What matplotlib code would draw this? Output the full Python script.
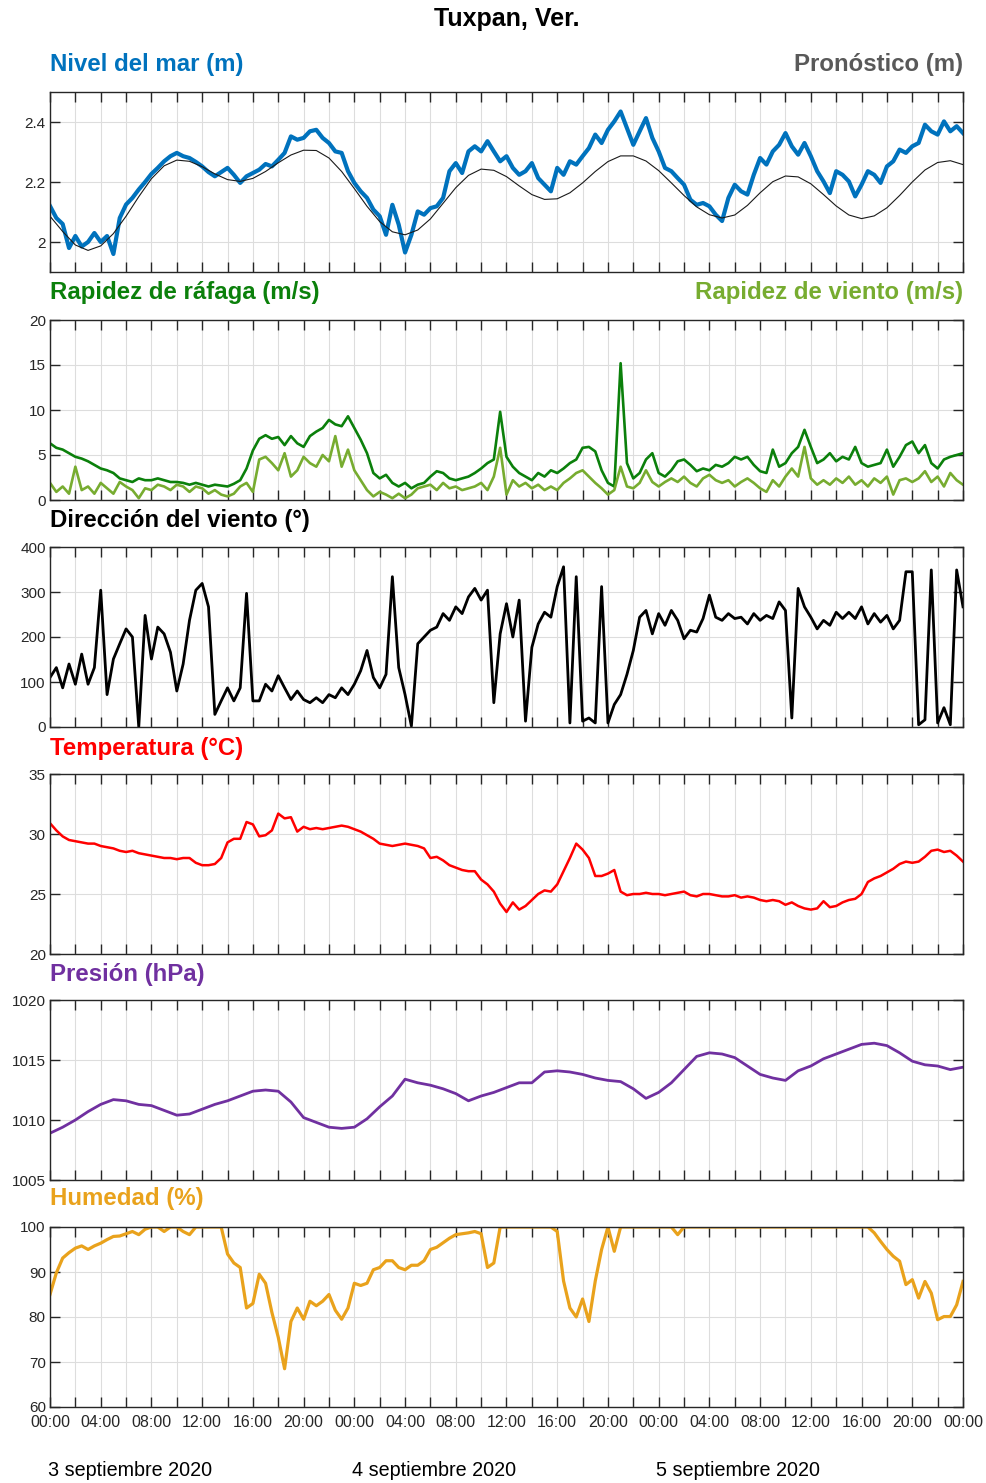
import numpy as np
import matplotlib
matplotlib.use('Agg')
import matplotlib.pyplot as plt

plt.rcParams['font.family'] = ['Liberation Sans', 'DejaVu Sans']

# time axis in hours from 3 Sep 2020 00:00
t30 = np.arange(0, 72.5, 0.5)
t60 = np.arange(0, 73, 1)

nivel = [2.12, 2.08, 2.06, 1.98, 2.02, 1.985, 2.00, 2.03, 2.00, 2.02,
         1.96, 2.08, 2.125, 2.147, 2.175, 2.20, 2.227, 2.247, 2.269, 2.286,
         2.297, 2.286, 2.28, 2.267, 2.252, 2.233, 2.219, 2.233, 2.247, 2.224,
         2.197, 2.219, 2.23, 2.241, 2.26, 2.252, 2.274, 2.297, 2.352, 2.341,
         2.347, 2.369, 2.374, 2.347, 2.33, 2.302, 2.297, 2.236, 2.197, 2.169,
         2.147, 2.108, 2.086, 2.024, 2.124, 2.058, 1.965, 2.024, 2.102, 2.091,
         2.113, 2.119, 2.147, 2.236, 2.263, 2.23, 2.302, 2.319, 2.302, 2.336,
         2.302, 2.269, 2.286, 2.247, 2.224, 2.236, 2.263, 2.213, 2.191, 2.169,
         2.247, 2.224, 2.269, 2.258, 2.286, 2.313, 2.358, 2.33, 2.374, 2.402,
         2.435, 2.38, 2.324, 2.369, 2.413, 2.347, 2.302, 2.247, 2.236, 2.213,
         2.191, 2.141, 2.124, 2.13, 2.119, 2.091, 2.07, 2.147, 2.191, 2.169,
         2.158, 2.224, 2.28, 2.258, 2.302, 2.324, 2.363, 2.319, 2.291, 2.33,
         2.286, 2.236, 2.202, 2.163, 2.236, 2.224, 2.202, 2.152, 2.191, 2.236,
         2.224, 2.197, 2.252, 2.269, 2.308, 2.297, 2.319, 2.33, 2.391, 2.369,
         2.358, 2.402, 2.369, 2.386, 2.363]

pronostico = [2.086, 2.035, 1.990, 1.972, 1.987, 2.028, 2.086, 2.151, 2.211, 2.254,
              2.273, 2.269, 2.251, 2.227, 2.208, 2.202, 2.212, 2.235, 2.264, 2.290,
              2.306, 2.305, 2.280, 2.235, 2.178, 2.119, 2.068, 2.034, 2.024, 2.040,
              2.077, 2.129, 2.181, 2.222, 2.243, 2.239, 2.218, 2.187, 2.158, 2.142,
              2.144, 2.164, 2.197, 2.235, 2.268, 2.287, 2.287, 2.270, 2.238, 2.197,
              2.155, 2.117, 2.091, 2.080, 2.090, 2.122, 2.164, 2.201, 2.220, 2.217,
              2.194, 2.158, 2.120, 2.090, 2.078, 2.087, 2.114, 2.155, 2.200, 2.240,
              2.265, 2.271, 2.258]

rafaga = [6.3, 5.8, 5.6, 5.2, 4.8, 4.6, 4.3, 3.9, 3.5, 3.3,
          3.0, 2.4, 2.2, 2.0, 2.4, 2.2, 2.2, 2.4, 2.2, 2.0,
          2.0, 1.9, 1.7, 1.9, 1.7, 1.5, 1.7, 1.6, 1.5, 1.8,
          2.2, 3.5, 5.5, 6.8, 7.2, 6.8, 7.0, 6.1, 7.1, 6.3,
          5.9, 7.1, 7.6, 8.0, 8.9, 8.4, 8.2, 9.3, 8.0, 6.7,
          5.2, 3.0, 2.4, 2.8, 1.9, 1.5, 1.9, 1.3, 1.7, 1.9,
          2.6, 3.2, 3.0, 2.4, 2.2, 2.4, 2.6, 3.0, 3.5, 4.1,
          4.5, 9.8, 4.8, 3.7, 3.0, 2.6, 2.2, 3.0, 2.6, 3.3,
          3.0, 3.5, 4.1, 4.5, 5.8, 5.9, 5.4, 3.3, 1.9, 1.5,
          15.2, 4.1, 2.4, 3.0, 4.5, 5.2, 3.0, 2.6, 3.3, 4.3,
          4.5, 3.9, 3.2, 3.5, 3.3, 3.9, 3.7, 4.1, 4.8, 4.5,
          4.8, 3.9, 3.2, 3.0, 5.6, 3.7, 4.1, 5.2, 5.9, 7.8,
          5.9, 4.1, 4.5, 5.2, 4.3, 4.8, 4.5, 5.9, 4.1, 3.7,
          3.9, 4.1, 5.6, 3.7, 4.8, 6.1, 6.5, 5.2, 6.1, 4.1,
          3.5, 4.5, 4.8, 5.0, 5.2]

viento = [1.9, 0.9, 1.5, 0.7, 3.7, 1.1, 1.5, 0.7, 1.9, 1.3,
          0.7, 2.0, 1.5, 1.1, 0.2, 1.3, 1.1, 1.7, 1.5, 1.1,
          1.7, 1.5, 0.9, 1.5, 1.3, 0.7, 1.1, 0.6, 0.4, 0.7,
          1.5, 1.9, 0.9, 4.5, 4.8, 4.1, 3.3, 5.2, 2.6, 3.3,
          4.8, 4.1, 3.7, 5.0, 4.3, 7.1, 3.7, 5.6, 3.3, 2.2,
          1.1, 0.4, 0.9, 0.6, 0.2, 0.7, 0.2, 0.6, 1.3, 1.5,
          1.7, 1.1, 1.9, 1.3, 1.5, 1.1, 1.3, 1.5, 1.9, 1.1,
          2.6, 5.8, 0.6, 2.2, 1.5, 1.9, 1.3, 1.7, 1.1, 1.5,
          1.1, 1.9, 2.4, 3.0, 3.3, 2.6, 1.9, 1.3, 0.6, 1.1,
          3.7, 1.5, 1.3, 1.9, 3.3, 2.0, 1.5, 2.0, 2.4, 2.0,
          2.6, 1.9, 1.5, 2.4, 2.8, 2.2, 1.9, 2.2, 1.5, 2.0,
          2.4, 1.9, 1.3, 0.9, 2.2, 1.5, 2.6, 3.5, 2.6, 5.9,
          2.4, 1.7, 2.2, 1.7, 2.4, 1.9, 2.6, 1.7, 2.2, 1.5,
          2.4, 1.9, 2.6, 0.6, 2.2, 2.4, 2.0, 2.4, 3.2, 2.0,
          2.6, 1.5, 3.0, 2.2, 1.7]

direccion = [110, 132, 87, 140, 95, 162, 95, 132, 304, 72,
             151, 185, 218, 200, 0, 248, 151, 222, 207, 166,
             80, 140, 237, 304, 319, 267, 28, 58, 87, 58,
             87, 297, 58, 58, 95, 80, 114, 87, 61, 80,
             61, 54, 65, 54, 72, 65, 87, 72, 95, 125,
             170, 110, 87, 117, 334, 132, 72, 2, 185, 200,
             215, 222, 252, 237, 267, 252, 289, 308, 282, 304,
             54, 207, 274, 200, 282, 13, 177, 229, 255, 244,
             312, 356, 9, 334, 13, 20, 9, 312, 9, 50,
             72, 117, 170, 244, 259, 207, 252, 226, 259, 237,
             196, 215, 211, 241, 293, 244, 237, 252, 241, 244,
             229, 252, 237, 248, 241, 278, 259, 20, 308, 267,
             244, 218, 237, 226, 255, 241, 255, 241, 267, 229,
             252, 233, 248, 218, 237, 345, 345, 5, 16, 349,
             9, 43, 5, 349, 267]

temperatura = [30.9, 30.3, 29.8, 29.5, 29.4, 29.3, 29.2, 29.2, 29.0, 28.9,
               28.8, 28.6, 28.5, 28.6, 28.4, 28.3, 28.2, 28.1, 28.0, 28.0,
               27.9, 28.0, 28.0, 27.6, 27.4, 27.4, 27.5, 28.0, 29.3, 29.6,
               29.6, 31.0, 30.8, 29.8, 29.9, 30.3, 31.7, 31.3, 31.4, 30.2,
               30.6, 30.4, 30.5, 30.4, 30.5, 30.6, 30.7, 30.6, 30.4, 30.2,
               29.9, 29.6, 29.2, 29.1, 29.0, 29.1, 29.2, 29.1, 29.0, 28.8,
               28.0, 28.1, 27.8, 27.4, 27.2, 27.0, 26.9, 26.9, 26.2, 25.8,
               25.2, 24.2, 23.5, 24.3, 23.7, 24.0, 24.5, 25.0, 25.3, 25.2,
               25.8, 26.9, 28.0, 29.2, 28.7, 28.0, 26.5, 26.5, 26.7, 27.0,
               25.2, 24.9, 25.0, 25.0, 25.1, 25.0, 25.0, 24.9, 25.0, 25.1,
               25.2, 24.9, 24.8, 25.0, 25.0, 24.9, 24.8, 24.8, 24.9, 24.7,
               24.8, 24.7, 24.5, 24.4, 24.5, 24.4, 24.1, 24.3, 24.0, 23.8,
               23.7, 23.8, 24.4, 23.9, 24.0, 24.3, 24.5, 24.6, 25.0, 26.0,
               26.3, 26.5, 26.8, 27.1, 27.5, 27.7, 27.6, 27.7, 28.1, 28.6,
               28.7, 28.5, 28.6, 28.2, 27.7]

presion = [1008.9, 1009.4, 1010.0, 1010.7, 1011.3, 1011.7, 1011.6, 1011.3, 1011.2, 1010.8,
           1010.4, 1010.5, 1010.9, 1011.3, 1011.6, 1012.0, 1012.4, 1012.5, 1012.4, 1011.5,
           1010.2, 1009.8, 1009.4, 1009.3, 1009.4, 1010.1, 1011.1, 1012.0, 1013.4, 1013.1,
           1012.9, 1012.6, 1012.2, 1011.6, 1012.0, 1012.3, 1012.7, 1013.1, 1013.1, 1014.0,
           1014.1, 1014.0, 1013.8, 1013.5, 1013.3, 1013.2, 1012.6, 1011.8, 1012.3, 1013.1,
           1014.2, 1015.3, 1015.6, 1015.5, 1015.2, 1014.5, 1013.8, 1013.5, 1013.3, 1014.1,
           1014.5, 1015.1, 1015.5, 1015.9, 1016.3, 1016.4, 1016.2, 1015.6, 1014.9, 1014.6,
           1014.5, 1014.2, 1014.4]

humedad = ([85.0, 89.8, 93.1, 94.3, 95.3, 95.8, 95.0, 95.8, 96.4, 97.2,
            97.9, 98.0, 98.5, 99.0, 98.3, 99.5, 100, 100, 99.0, 100,
            100, 99.0, 98.3, 100, 100, 100, 100, 100, 94, 92,
            91, 82, 83, 89.5, 87.5, 81, 75.5, 68.5, 79, 82,
            79.5, 83.5, 82.5, 83.5, 85, 81.5, 79.5, 82, 87.5, 87,
            87.5, 90.5, 91, 92.5, 92.5, 91, 90.5, 91.5, 91.5, 92.5,
            95, 95.5, 96.5, 97.5, 98.3, 98.5, 98.7, 99, 98.5, 91,
            92, 100]
           + [100] * 8
           + [99, 88, 82, 80, 84, 79, 88, 95, 100, 94.6, 100]
           + [100] * 8 + [98.3, 100] + [100] * 28
           + [100, 98.7, 96.8, 95.0, 93.5, 92.4, 87.2, 88.3, 84.2, 87.9,
              85.3, 79.4, 80.1, 80.1, 82.7, 87.9])

hora_labels = ['00:00', '04:00', '08:00', '12:00', '16:00', '20:00']
dias = ['3 septiembre 2020', '4 septiembre 2020', '5 septiembre 2020']

fig = plt.figure(figsize=(9.87, 14.83), dpi=100)

left, width, height = 50 / 987, 913 / 987, 180 / 1483
bottoms = [272, 500, 727, 954, 1180, 1407]
axes = [fig.add_axes([left, 1 - b / 1483, width, height]) for b in bottoms]


def estilo(ax, ylim, yticks):
    ax.set_xlim(0, 72)
    ax.set_ylim(*ylim)
    ax.set_yticks(yticks)
    ax.set_yticklabels(['%g' % v for v in yticks])
    ax.set_xticks(np.arange(0, 73, 2))
    ax.set_xticklabels([])
    ax.grid(True, color='#dddddd', lw=0.8)
    ax.set_axisbelow(True)
    ax.tick_params(direction='in', length=7, width=1, top=True, right=True,
                   labelsize=11, labelcolor='#262626', color='#262626', pad=3)
    for s in ax.spines.values():
        s.set_color('#262626')
        s.set_linewidth(1)


ax = axes[0]
ax.plot(t30, nivel, color='#0072BD', lw=3.0)
ax.plot(t60, pronostico, color='#1a1a1a', lw=0.8)
estilo(ax, (1.9, 2.5), [2, 2.2, 2.4])

ax = axes[1]
ax.plot(t30, rafaga, color='#0B800B', lw=1.9)
ax.plot(t30, viento, color='#77AC30', lw=1.9)
estilo(ax, (0, 20), [0, 5, 10, 15, 20])

ax = axes[2]
ax.plot(t30, direccion, color='black', lw=2.0)
estilo(ax, (0, 400), [0, 100, 200, 300, 400])

ax = axes[3]
ax.plot(t30, temperatura, color='#FF0000', lw=1.8)
estilo(ax, (20, 35), [20, 25, 30, 35])

ax = axes[4]
ax.plot(t60, presion, color='#7030A0', lw=2.0)
estilo(ax, (1005, 1020), [1005, 1010, 1015, 1020])

ax = axes[5]
ax.plot(t30, humedad, color='#E9A21C', lw=2.3)
estilo(ax, (60, 100), [60, 70, 80, 90, 100])
labs = []
for h in range(0, 73, 2):
    labs.append(hora_labels[(h // 4) % 6] if h % 4 == 0 else '')
ax.set_xticklabels(labs)
ax.tick_params(axis='x', pad=6, labelsize=11.5)

# titles and panel labels
fs = 17.3
fig.text(left + width / 2, 1 - 19 / 1483, 'Tuxpan, Ver.', ha='center', va='center',
         fontsize=18, fontweight='bold', color='black')
etiquetas = [('Nivel del mar (m)', '#0072BD', 65),
             ('Rapidez de ráfaga (m/s)', '#0B800B', 293),
             ('Dirección del viento (°)', 'black', 520),
             ('Temperatura (°C)', '#FF0000', 748),
             ('Presión (hPa)', '#7030A0', 975),
             ('Humedad (%)', '#E9A21C', 1198)]
for txt, c, y in etiquetas:
    fig.text(left, 1 - y / 1483, txt, ha='left', va='center',
             fontsize=fs, fontweight='bold', color=c)
fig.text(left + width, 1 - 65 / 1483, 'Pronóstico (m)', ha='right', va='center',
         fontsize=fs, fontweight='bold', color='#595959')
fig.text(left + width, 1 - 293 / 1483, 'Rapidez de viento (m/s)', ha='right',
         va='center', fontsize=fs, fontweight='bold', color='#77AC30')

for i, d in enumerate(dias):
    fig.text((48 + 304 * i) / 987, 1 - 1470 / 1483, d, ha='left', va='center',
             fontsize=14.2, color='black')

fig.savefig('out.png', dpi=100)
